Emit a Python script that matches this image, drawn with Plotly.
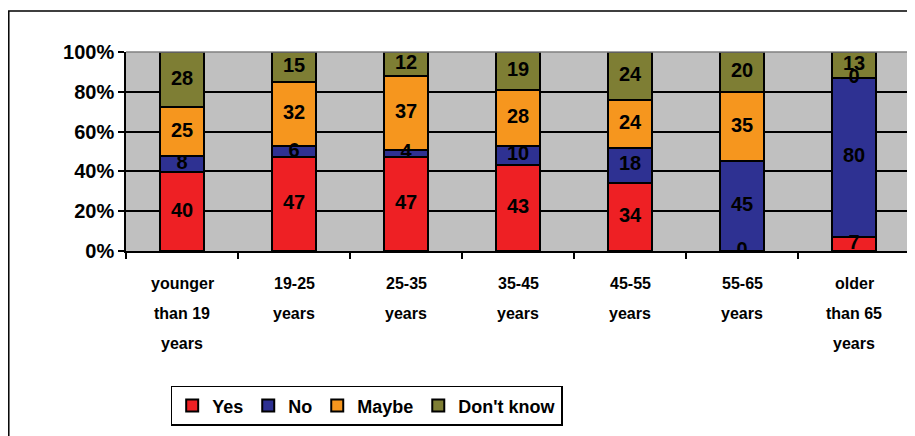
import numpy as np
import plotly.graph_objects as go

categories = ["younger than 19 years", "19-25 years", "25-35 years", "35-45 years",
              "45-55 years", "55-65 years", "older than 65 years"]
tick_lines = [["younger", "than 19", "years"], ["19-25", "years"], ["25-35", "years"],
              ["35-45", "years"], ["45-55", "years"], ["55-65", "years"],
              ["older", "than 65", "years"]]
series = ["Yes", "No", "Maybe", "Don't know"]
yes = [40, 47, 47, 43, 34, 0, 7]
no = [8, 6, 4, 10, 18, 45, 80]
maybe = [25, 32, 37, 28, 24, 35, 0]
dont_know = [28, 15, 12, 19, 24, 20, 13]
colors = ["#EE2024", "#2E3192", "#F6961E", "#7E7E34"]

values = np.array([yes, no, maybe, dont_know], dtype=float)
pct = values / values.sum(axis=0) * 100
base = np.vstack([np.zeros(len(categories)), np.cumsum(pct, axis=0)[:-1]])
mid = base + pct / 2

font = "Liberation Sans, Arial"

fig = go.Figure()
for i, name in enumerate(series):
    fig.add_trace(go.Bar(x=categories, y=pct[i], name=name, width=0.39,
                         marker=dict(color=colors[i], line=dict(color="black", width=2)),
                         hoverinfo="skip"))

for i in range(len(series)):
    fig.add_trace(go.Scatter(x=categories, y=mid[i], mode="text",
                             text=[str(int(v)) for v in values[i]],
                             textfont=dict(family=font, size=20, color="black", weight="bold"),
                             showlegend=False, hoverinfo="skip"))

# multi-line category labels below the axis
for cat, lines in zip(categories, tick_lines):
    for j, line in enumerate(lines):
        fig.add_annotation(x=cat, y=0, xref="x", yref="paper", text=line, showarrow=False,
                           yanchor="middle", yshift=-32 - 30 * j,
                           font=dict(family=font, size=16, color="black", weight="bold"))

# outer chart border
fig.add_shape(type="rect", xref="paper", yref="paper", x0=-0.1495, x1=1.03, y0=-1.1, y1=1.206,
              line=dict(color="black", width=1.5), layer="below")

fig.update_layout(
    width=907, height=428,
    barmode="stack", bargap=0.61,
    plot_bgcolor="#C0C0C0", paper_bgcolor="white",
    margin=dict(l=118, r=5, t=44, b=185),
    showlegend=True,
    legend=dict(orientation="h", x=0.307, xanchor="center", y=-0.678, yanchor="top",
                traceorder="normal",
                bordercolor="black", borderwidth=1.5, bgcolor="white",
                font=dict(family=font, size=18, color="black", weight="bold"),
                itemwidth=30),
)
fig.update_xaxes(showticklabels=False, ticks="outside", tickson="boundaries", ticklen=6,
                 tickcolor="black", tickwidth=1.5, showline=True, linecolor="black",
                 linewidth=1.5, showgrid=False)
fig.update_yaxes(range=[0, 100], dtick=20, ticksuffix="%", ticks="outside", ticklen=6,
                 tickcolor="black", tickwidth=1.5, showline=True, linecolor="black",
                 linewidth=1.5, gridcolor="black", gridwidth=1.5, zeroline=False,
                 tickfont=dict(family=font, size=20, color="black", weight="bold"))
# gray frame of the plot area on top and right
fig.add_shape(type="line", xref="paper", yref="paper", x0=0, x1=1, y0=1, y1=1,
              line=dict(color="#808080", width=1.5))
fig.add_shape(type="line", xref="paper", yref="paper", x0=1, x1=1, y0=0, y1=1,
              line=dict(color="#808080", width=1.5))

fig.write_html("out.html")
